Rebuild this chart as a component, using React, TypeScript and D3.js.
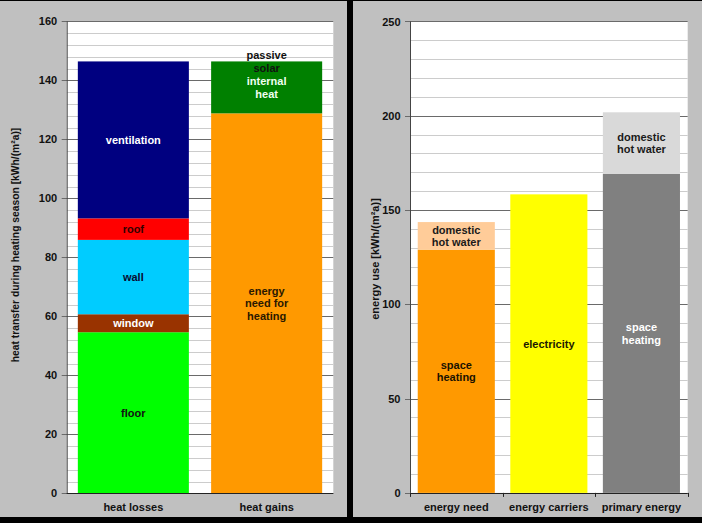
import React, { useRef, useEffect } from "react";
import { select, scaleLinear, scaleBand, range } from "d3";

// left panel: heat balance over the heating season
const balanceCategories = ["heat losses", "heat gains"];
const lossLabels = [["floor"], ["window"], ["wall"], ["roof"], ["ventilation"]];
const lossValues = [54.6, 6.1, 25.2, 7.3, 53.2];
const gainLabels = [["energy", "need for", "heating"], ["internal", "heat"], ["passive", "solar"]];
const gainValues = [128.8, 17.4, 0.2];

// right panel: energy use
const useCategories = ["energy need", "energy carriers", "primary energy"];
const spaceHeating = [129.0, 0, 169.1];
const electricity = [0, 158.3, 0];
const hotWater = [14.6, 0, 32.7];

const lossColors = ["#00ff00", "#993300", "#00ccff", "#ff0000", "#000080"];
const lossText = ["#111", "#fff", "#0a0a30", "#300", "#fff"];
const gainColors = ["#ff9900", "#008000", "#008000"];
const gainText = ["#2a1800", "#f0fff0", "#111"];

const FONT = "'Liberation Sans', Arial, sans-serif";
const FS = 11;

type Segment = {
  cat: string;
  y0: number;
  y1: number;
  fill: string;
  text: string[];
  textFill: string;
};

// stack one category's values bottom-up
const stackCategory = (cat: string, values: number[], fills: string[], labels: string[][], textFills: string[]): Segment[] => {
  let acc = 0;
  const out: Segment[] = [];
  values.forEach((v, i) => {
    if (!v) return;
    out.push({ cat, y0: acc, y1: acc + v, fill: fills[i], text: labels[i], textFill: textFills[i] });
    acc += v;
  });
  return out;
};

const balanceSegments: Segment[] = [
  ...stackCategory(balanceCategories[0], lossValues, lossColors, lossLabels, lossText),
  ...stackCategory(balanceCategories[1], gainValues, gainColors, gainLabels, gainText),
];

const useSegments: Segment[] = [];
useCategories.forEach((cat, i) => {
  const shFill = ["#ff9900", "#ffff00", "#808080"][i];
  const shText = i === 2 ? "#fff" : "#1a1200";
  const parts = [spaceHeating[i], electricity[i], hotWater[i]];
  useSegments.push(
    ...stackCategory(
      cat,
      parts,
      [shFill, "#ffff00", i === 2 ? "#d9d9d9" : "#ffcc99"],
      [["space", "heating"], ["electricity"], ["domestic", "hot water"]],
      [shText, "#1a1a00", "#1a1a1a"]
    )
  );
});

type Box = { left: number; right: number; top: number; bottom: number };

const Panel = ({ frame, plot, yMax, major, minor, categories, segments, title, titleSize, titleX, titleY, catTicks }: {
  frame: Box; plot: Box; yMax: number; major: number; minor: number; categories: string[];
  segments: Segment[]; title: string; titleSize: number; titleX: number; titleY: number; catTicks: boolean;
}) => {
  const gRef = useRef<SVGGElement>(null);

  useEffect(() => {
    const g = select(gRef.current);
    g.selectAll("*").remove();

    const y = scaleLinear().domain([0, yMax]).range([plot.bottom, plot.top]);
    const x = scaleBand<string>()
      .domain(categories)
      .range([plot.left, plot.right])
      .paddingInner(0.167)
      .paddingOuter(0.0835);

    g.append("rect")
      .attr("x", frame.left)
      .attr("y", frame.top)
      .attr("width", frame.right - frame.left)
      .attr("height", frame.bottom - frame.top)
      .attr("fill", "#c0c0c0");

    g.append("rect")
      .attr("x", plot.left)
      .attr("y", plot.top)
      .attr("width", plot.right - plot.left)
      .attr("height", plot.bottom - plot.top)
      .attr("fill", "#fff");

    // minor gridlines
    g.selectAll(".minor")
      .data(range(0, yMax + 0.001, minor).filter((v) => v % major !== 0))
      .join("line")
      .attr("class", "minor")
      .attr("x1", plot.left)
      .attr("x2", plot.right)
      .attr("y1", (v) => Math.round(y(v)) + 0.5)
      .attr("y2", (v) => Math.round(y(v)) + 0.5)
      .attr("stroke", "#cccccc");

    // major gridlines, running out into the tick marks
    const majors = range(0, yMax + 0.001, major);
    g.selectAll(".major")
      .data(majors)
      .join("line")
      .attr("class", "major")
      .attr("x1", plot.left - 5)
      .attr("x2", plot.right)
      .attr("y1", (v) => Math.round(y(v)) + 0.5)
      .attr("y2", (v) => Math.round(y(v)) + 0.5)
      .attr("stroke", "#6a6a6a");

    g.selectAll(".seg")
      .data(segments)
      .join("rect")
      .attr("class", "seg")
      .attr("x", (d) => x(d.cat)!)
      .attr("width", x.bandwidth())
      .attr("y", (d) => y(d.y1))
      .attr("height", (d) => y(d.y0) - y(d.y1))
      .attr("fill", (d) => d.fill);

    // axes
    g.append("line")
      .attr("x1", plot.left + 0.5)
      .attr("x2", plot.left + 0.5)
      .attr("y1", plot.top)
      .attr("y2", plot.bottom)
      .attr("stroke", "#444");
    g.append("line")
      .attr("x1", plot.left)
      .attr("x2", plot.right)
      .attr("y1", Math.round(plot.bottom) + 0.5)
      .attr("y2", Math.round(plot.bottom) + 0.5)
      .attr("stroke", "#222");

    if (catTicks) {
      const step = (plot.right - plot.left) / categories.length;
      g.selectAll(".ctick")
        .data(range(categories.length + 1))
        .join("line")
        .attr("class", "ctick")
        .attr("x1", (i) => Math.round(plot.left + i * step) + 0.5)
        .attr("x2", (i) => Math.round(plot.left + i * step) + 0.5)
        .attr("y1", plot.bottom)
        .attr("y2", plot.bottom + 4)
        .attr("stroke", "#222");
    }

    g.selectAll(".ylab")
      .data(majors)
      .join("text")
      .attr("class", "ylab")
      .attr("x", plot.left - 9.5)
      .attr("y", (v) => y(v))
      .attr("dy", "0.38em")
      .attr("text-anchor", "end")
      .attr("font-family", FONT)
      .attr("font-weight", "bold")
      .attr("font-size", FS)
      .attr("fill", "#111")
      .text((v) => v);

    g.selectAll(".xlab")
      .data(categories)
      .join("text")
      .attr("class", "xlab")
      .attr("x", (c) => x(c)! + x.bandwidth() / 2)
      .attr("y", 510.5)
      .attr("text-anchor", "middle")
      .attr("font-family", FONT)
      .attr("font-weight", "bold")
      .attr("font-size", FS)
      .attr("fill", "#111")
      .text((c) => c);

    // segment labels, centred in their slice
    const lineH = 12.4;
    const labels = g.selectAll(".slab")
      .data(segments)
      .join("text")
      .attr("class", "slab")
      .attr("text-anchor", "middle")
      .attr("font-family", FONT)
      .attr("font-weight", "bold")
      .attr("font-size", FS)
      .attr("fill", (d) => d.textFill);
    labels
      .selectAll("tspan")
      .data((d) => d.text.map((t, i) => ({ t, i, d })))
      .join("tspan")
      .attr("x", (p) => x(p.d.cat)! + x.bandwidth() / 2)
      .attr("y", (p) => (y(p.d.y0) + y(p.d.y1)) / 2 + (p.i - (p.d.text.length - 1) / 2) * lineH)
      .attr("dy", "0.36em")
      .text((p) => p.t);

    g.append("text")
      .attr("transform", `translate(${titleX},${titleY}) rotate(-90)`)
      .attr("text-anchor", "middle")
      .attr("font-family", FONT)
      .attr("font-weight", "bold")
      .attr("font-size", titleSize)
      .attr("fill", "#111")
      .text(title);
  }, [frame, plot, yMax, major, minor, categories, segments, title, titleSize, titleX, titleY, catTicks]);

  return <g ref={gRef} />;
};

const leftFrame = { left: 0, right: 347, top: 1, bottom: 517 };
const leftPlot = { left: 66.7, right: 333.3, top: 21.3, bottom: 493.3 };
const rightFrame = { left: 353, right: 702, top: 1, bottom: 517 };
const rightPlot = { left: 410, right: 687.7, top: 21.4, bottom: 492.9 };

export default function App() {
  return (
    <svg width={702} height={523} style={{ position: "absolute", left: 0, top: 0 }}>
      <rect x={0} y={0} width={702} height={523} fill="#000" />
      <Panel
        frame={leftFrame}
        plot={leftPlot}
        yMax={160}
        major={20}
        minor={4}
        categories={balanceCategories}
        segments={balanceSegments}
        title="heat transfer during heating season [kWh/(m²a)]"
        titleSize={10.3}
        titleX={19}
        titleY={245}
        catTicks={false}
      />
      <Panel
        frame={rightFrame}
        plot={rightPlot}
        yMax={250}
        major={50}
        minor={10}
        categories={useCategories}
        segments={useSegments}
        title="energy use [kWh/(m²a)]"
        titleSize={11}
        titleX={378.5}
        titleY={259}
        catTicks={true}
      />
    </svg>
  );
}
